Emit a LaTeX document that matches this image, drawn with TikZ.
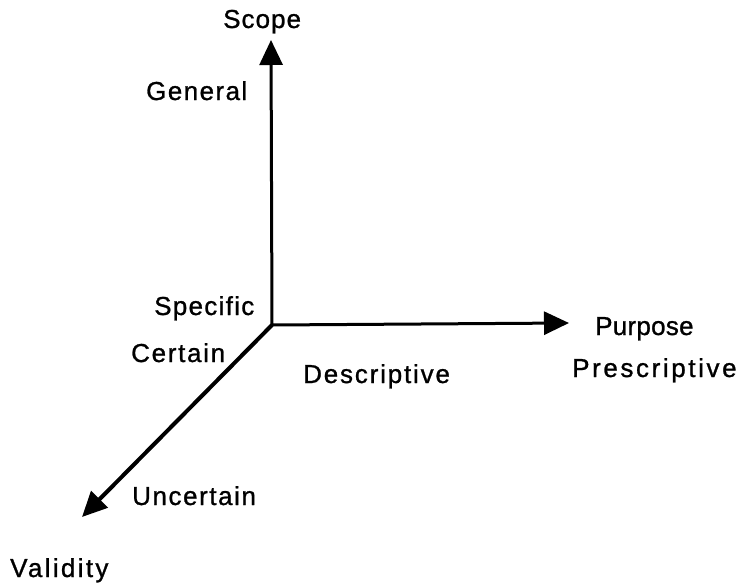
\documentclass[tikz,border=0pt]{standalone}
\usepackage{fontspec}
\setmainfont{Liberation Sans}[FakeBold=1]
\usetikzlibrary{arrows.meta}
\tikzset{
  lbl/.style={anchor=base west, inner sep=0pt, font=\fontsize{26}{30}\selectfont},
  axis/.style={line width=3pt, -{Triangle[length=25pt, width=23pt]}},
}
\newcommand{\spaced}[2]{{\addfontfeature{LetterSpace=#1}#2}}
\begin{document}
\begin{tikzpicture}[x=1pt, y=-1pt]
  \useasboundingbox (0,0) rectangle (741,586);
  % axes
  \coordinate (O) at (272,325);
  \coordinate (top) at (271,40);
  \coordinate (right) at (569,323);
  \coordinate (diag) at (82,517);
  \draw[axis] (O) -- (top);
  \draw[axis] (O) -- (right);
  \draw[axis, line width=4pt] (O) -- (diag);
  % labels
  \node[lbl] (scope) at (223,28) {\spaced{4}{Scope}};
  \node[lbl] (general) at (146,100) {\spaced{5.5}{General}};
  \node[lbl] (specific) at (154,315) {\spaced{5}{Specific}};
  \node[lbl] (certain) at (131,362) {\spaced{6.5}{Certain}};
  \node[lbl] (descriptive) at (303,383) {\spaced{7}{Descriptive}};
  \node[lbl] (purpose) at (595,335) {\spaced{1}{Purpose}};
  \node[lbl] (prescriptive) at (572,377) {\spaced{10}{Prescriptive}};
  \node[lbl] (uncertain) at (132,505) {\spaced{6}{Uncertain}};
  \node[lbl] (validity) at (10,577) {\spaced{9}{Validity}};
\end{tikzpicture}
\end{document}
